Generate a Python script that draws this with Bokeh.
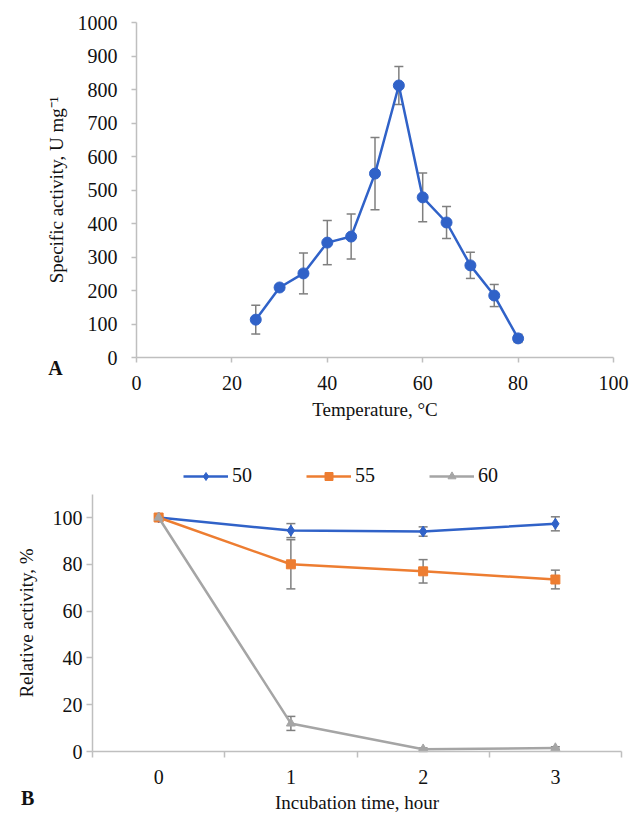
from bokeh.plotting import figure
from bokeh.models import (ColumnDataSource, Whisker, TeeHead, FixedTicker, Label,
                          Legend, LegendItem)
from bokeh.embed import file_html
from bokeh.resources import INLINE

# ---- Panel A data ----
temp_c = [25, 30, 35, 40, 45, 50, 55, 60, 65, 70, 75, 80]
spec_activity = [113, 209, 251, 343, 361, 549, 812, 478, 403, 275, 185, 57]
spec_err = [43, 8, 61, 66, 67, 108, 57, 73, 48, 39, 33, 12]

# ---- Panel B data ----
time_h = [0, 1, 2, 3]
rel_50 = [100, 94.4, 94.0, 97.3]
err_50 = [0.5, 3, 2, 3]
rel_55 = [100, 80.0, 77.0, 73.5]
err_55 = [0.5, 10.5, 5, 4]
rel_60 = [100, 12.0, 1.0, 1.5]
err_60 = [0.5, 3, 0.5, 0.5]
series_names = ["50", "55", "60"]

FONT = "Liberation Serif"
AXIS_COL = "#BFBFBF"
ERR_COL = "#7F7F7F"
BLUE = "#3062C8"
ORANGE = "#ED7D31"
GRAY = "#A5A5A5"
TXT = "#111111"

W = 632
H1, H2 = 437, 378


def range_for(px0, px1, v0, v1, size):
    """Data range covering a canvas of `size` px, where value v0 sits at pixel px0
    and v1 at px1."""
    k = (v1 - v0) / (px1 - px0)
    return (v0 - k * px0, v0 + k * (size - px0))


def style(p):
    p.grid.visible = False
    p.outline_line_color = None
    p.axis.axis_line_color = AXIS_COL
    p.axis.axis_line_width = 1.5
    p.axis.major_tick_line_color = AXIS_COL
    p.axis.major_tick_line_width = 1.5
    p.axis.minor_tick_line_color = AXIS_COL
    p.axis.minor_tick_line_width = 1.5
    p.axis.major_tick_in = 0
    p.axis.minor_tick_in = 0
    p.axis.minor_tick_out = 0
    p.axis.major_label_text_font = FONT
    p.axis.major_label_text_font_size = "20px"
    p.axis.major_label_text_color = TXT
    p.axis.axis_label_text_font = FONT
    p.axis.axis_label_text_font_size = "19px"
    p.axis.axis_label_text_font_style = "normal"
    p.axis.axis_label_text_color = TXT


# ---------------- Panel A ----------------
xr1 = range_for(136, 613, 0, 100, W)
yb, yt = range_for(H1 - 357, H1 - 22, 0, 1000, H1)   # measured from bottom
p1 = figure(width=W, height=H1, x_range=xr1, y_range=(yb, yt),
            output_backend="svg", toolbar_location=None,
            min_border_left=0, min_border_right=0, min_border_top=0,
            min_border_bottom=0)
style(p1)
p1.xaxis.fixed_location = 0
p1.yaxis.fixed_location = 0
p1.xaxis.bounds = (0, 100)
p1.yaxis.bounds = (0, 1000)
p1.xaxis.ticker = FixedTicker(ticks=[0, 20, 40, 60, 80, 100])
p1.yaxis.ticker = FixedTicker(ticks=list(range(0, 1001, 100)))
p1.xaxis.major_tick_out = 5
p1.yaxis.major_tick_out = 5
p1.xaxis.major_label_standoff = 13
p1.yaxis.major_label_standoff = 14
p1.xaxis.axis_label = "Temperature, \u00b0C"
p1.yaxis.axis_label = "Specific activity, U mg\u207b\u00b9"
p1.xaxis.axis_label_standoff = 6
p1.yaxis.axis_label_standoff = 8

srcA = ColumnDataSource(dict(
    x=temp_c, y=spec_activity,
    lo=[v - e for v, e in zip(spec_activity, spec_err)],
    hi=[v + e for v, e in zip(spec_activity, spec_err)]))
p1.add_layout(Whisker(source=srcA, base="x", upper="hi", lower="lo",
                      line_color=ERR_COL, line_width=1.5,
                      upper_head=TeeHead(size=9, line_color=ERR_COL, line_width=1.5),
                      lower_head=TeeHead(size=9, line_color=ERR_COL, line_width=1.5)))
p1.line("x", "y", source=srcA, line_color=BLUE, line_width=2.5)
p1.scatter("x", "y", source=srcA, marker="circle", size=11,
           fill_color=BLUE, line_color=BLUE)
p1.add_layout(Label(x=-17, y=-30, text="A", text_font=FONT, text_font_size="20px",
                    text_font_style="bold", text_align="center",
                    text_baseline="middle", text_color=TXT))

# ---------------- Panel B ----------------
xr2 = range_for(92, 621, -0.5, 3.5, W)
yb2, yt2 = range_for(815 - 751, 815 - 517, 0, 100, H2)
p2 = figure(width=W, height=H2, x_range=xr2, y_range=(yb2, yt2),
            output_backend="svg", toolbar_location=None,
            min_border_left=0, min_border_right=0, min_border_top=0,
            min_border_bottom=0)
style(p2)
p2.xaxis.fixed_location = 0
p2.yaxis.fixed_location = -0.5
p2.xaxis.bounds = (-0.5, 3.5)
p2.yaxis.bounds = (0, 110)
p2.xaxis.ticker = FixedTicker(ticks=time_h, minor_ticks=[-0.5, 0.5, 1.5, 2.5, 3.5])
p2.xaxis.major_tick_out = 0
p2.xaxis.minor_tick_out = 6
p2.yaxis.ticker = FixedTicker(ticks=[0, 20, 40, 60, 80, 100])
p2.yaxis.major_tick_out = 6
p2.xaxis.major_label_standoff = 12
p2.yaxis.major_label_standoff = 4
p2.xaxis.axis_label = "Incubation time, hour"
p2.xaxis.axis_label_standoff = 5
p2.yaxis.axis_label = "Relative activity, %"
p2.yaxis.axis_label_standoff = 13

items = []
for name, vals, errs, col, mk, sz in [
        (series_names[0], rel_50, err_50, BLUE, "diamond", 11),
        (series_names[1], rel_55, err_55, ORANGE, "square", 9),
        (series_names[2], rel_60, err_60, GRAY, "triangle", 9)]:
    src = ColumnDataSource(dict(
        x=time_h, y=vals,
        lo=[v - e for v, e in zip(vals, errs)],
        hi=[v + e for v, e in zip(vals, errs)]))
    p2.add_layout(Whisker(source=src, base="x", upper="hi", lower="lo",
                          line_color=ERR_COL, line_width=1.5,
                          upper_head=TeeHead(size=9, line_color=ERR_COL, line_width=1.5),
                          lower_head=TeeHead(size=9, line_color=ERR_COL, line_width=1.5)))
    r1 = p2.line("x", "y", source=src, line_color=col, line_width=2.5)
    r2 = p2.scatter("x", "y", source=src, marker=mk, size=sz,
                    fill_color=col, line_color=col)
    items.append(LegendItem(label=name, renderers=[r1, r2]))

legend = Legend(items=items, orientation="horizontal", location=(183, 328),
                glyph_width=45, glyph_height=20, label_height=20,
                label_standoff=4, spacing=54, padding=0, margin=0,
                border_line_color=None, background_fill_alpha=0)
legend.label_text_font = FONT
legend.label_text_font_size = "20px"
legend.label_text_color = TXT
p2.add_layout(legend, "center")
p2.add_layout(Label(x=-0.99, y=-19.7, text="B", text_font=FONT, text_font_size="20px",
                    text_font_style="bold", text_align="center",
                    text_baseline="middle", text_color=TXT))

# two independent roots stacked vertically
open("out.html", "w").write(file_html([p1, p2], INLINE))
